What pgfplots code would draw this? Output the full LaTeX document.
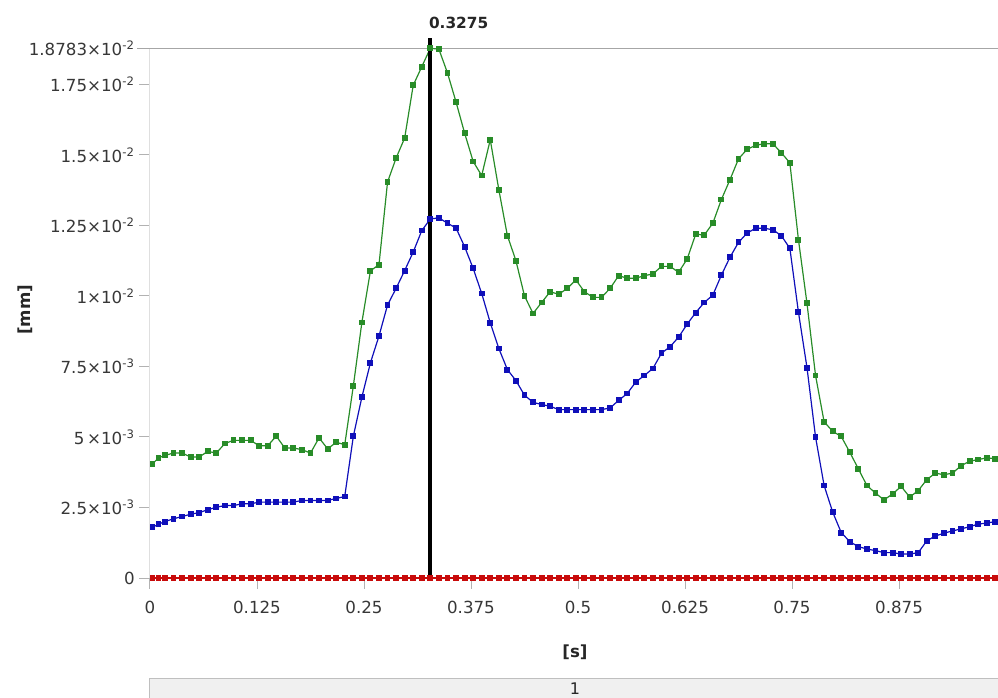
\documentclass[border=0pt]{standalone}
\usepackage{pgfplots}
\pgfplotsset{compat=1.18}
\usepackage{pgfplotstable}
\usepackage{fontspec}
\setmainfont{DejaVu Sans}

\definecolor{sgreen}{RGB}{40,140,40}
\definecolor{sblue}{RGB}{15,15,185}
\definecolor{sred}{RGB}{200,10,10}
\definecolor{ticktext}{RGB}{55,55,55}

% time [s], green, blue, red  (deformation in 1e-3 mm)
\pgfplotstableread{
t g b r
0.003 4.05 1.80 0
0.010 4.26 1.91 0
0.0175 4.35 2.00 0
0.0275 4.43 2.10 0
0.0375 4.43 2.18 0
0.0475 4.29 2.26 0
0.0575 4.29 2.32 0
0.0675 4.49 2.42 0
0.0775 4.43 2.51 0
0.0875 4.77 2.57 0
0.0975 4.88 2.57 0
0.1075 4.88 2.63 0
0.1175 4.88 2.63 0
0.1275 4.69 2.69 0
0.1375 4.69 2.69 0
0.1475 5.03 2.69 0
0.1575 4.61 2.69 0
0.1675 4.61 2.69 0
0.1775 4.55 2.75 0
0.1875 4.43 2.75 0
0.1975 4.97 2.75 0
0.2075 4.58 2.75 0
0.2175 4.81 2.82 0
0.2275 4.73 2.89 0
0.2375 6.80 5.02 0
0.2475 9.06 6.41 0
0.2575 10.89 7.63 0
0.2675 11.11 8.58 0
0.2775 14.04 9.68 0
0.2875 14.89 10.27 0
0.2975 15.60 10.90 0
0.3075 17.47 11.56 0
0.3175 18.13 12.32 0
0.3275 18.783 12.73 0
0.3375 18.75 12.77 0
0.3475 17.91 12.58 0
0.3575 16.88 12.41 0
0.3675 15.78 11.75 0
0.3775 14.77 10.98 0
0.3875 14.27 10.09 0
0.3975 15.54 9.05 0
0.4075 13.77 8.14 0
0.4175 12.14 7.39 0
0.4275 11.25 7.00 0
0.4375 10.00 6.48 0
0.4475 9.38 6.23 0
0.4575 9.77 6.15 0
0.4675 10.15 6.09 0
0.4775 10.06 5.97 0
0.4875 10.27 5.97 0
0.4975 10.57 5.97 0
0.5075 10.15 5.97 0
0.5175 9.95 5.97 0
0.5275 9.95 5.97 0
0.5375 10.27 6.03 0
0.5475 10.72 6.30 0
0.5575 10.63 6.54 0
0.5675 10.63 6.95 0
0.5775 10.72 7.18 0
0.5875 10.78 7.43 0
0.5975 11.05 7.97 0
0.6075 11.05 8.20 0
0.6175 10.84 8.54 0
0.6275 11.31 9.00 0
0.6375 12.19 9.41 0
0.6475 12.16 9.77 0
0.6575 12.58 10.03 0
0.6675 13.42 10.74 0
0.6775 14.12 11.37 0
0.6875 14.86 11.90 0
0.6975 15.20 12.23 0
0.7075 15.34 12.40 0
0.7175 15.40 12.40 0
0.7275 15.40 12.35 0
0.7375 15.08 12.14 0
0.7475 14.72 11.69 0
0.7575 12.00 9.43 0
0.7675 9.74 7.46 0
0.7775 7.18 5.00 0
0.7875 5.54 3.28 0
0.7975 5.20 2.34 0
0.8075 5.02 1.61 0
0.8175 4.46 1.29 0
0.8275 3.87 1.11 0
0.8375 3.28 1.03 0
0.8475 3.01 0.97 0
0.8575 2.77 0.90 0
0.8675 2.98 0.90 0
0.8775 3.25 0.85 0
0.8875 2.87 0.85 0
0.8975 3.10 0.90 0
0.9075 3.49 1.32 0
0.9175 3.72 1.49 0
0.9275 3.66 1.59 0
0.9375 3.72 1.67 0
0.9475 3.98 1.74 0
0.9575 4.14 1.82 0
0.9675 4.20 1.91 0
0.9775 4.26 1.95 0
0.9875 4.23 2.00 0
0.9975 4.27 2.04 0
}\deform

\begin{document}
\begin{tikzpicture}
\begin{axis}[
    name=ax,
    scale only axis,
    width=642pt,
    height=397.3pt,
    xmin=0, xmax=1,
    ymin=0, ymax=18.783,
    clip=false,
    axis x line*=bottom,
    axis y line*=left,
    x axis line style={gray!55, line width=0.75pt},
    y axis line style={gray!25, line width=0.75pt},
    tick align=outside,
    major tick length=8pt,
    tick style={gray!60, line width=0.75pt},
    xtick={0,0.125,0.25,0.375,0.5,0.625,0.75,0.875,1},
    xticklabels={0,0.125,0.25,0.375,0.5,0.625,0.75,0.875,1},
    xticklabel style={yshift=-6pt},
    ytick={0,2.5,5,7.5,10,12.5,15,17.5,18.783},
    yticklabels={0,
        2.5×10\textsuperscript{-3},
        5\,×10\textsuperscript{-3},
        7.5×10\textsuperscript{-3},
        1×10\textsuperscript{-2},
        1.25×10\textsuperscript{-2},
        1.5×10\textsuperscript{-2},
        1.75×10\textsuperscript{-2},
        1.8783×10\textsuperscript{-2}},
    tick label style={font=\fontsize{12.5}{15}\selectfont, text=ticktext},
    xlabel={\bfseries [s]},
    ylabel={\bfseries [mm]},
    label style={font=\fontsize{12.5}{15}\selectfont, text=black!85},
    xlabel style={at={(axis description cs:0.4965,-0.1397)}, anchor=center},
    ylabel style={at={(axis description cs:-0.146,0.506)}, anchor=center},
    every axis plot/.append style={line width=0.9pt, mark=square*, mark size=1.75pt},
]
% top limit line
\draw[gray!70, line width=0.75pt] ([xshift=-9.75pt]axis cs:0,18.783) -- (axis cs:1,18.783);

\addplot[sgreen, mark options={fill=sgreen}] table[x=t, y=g] {\deform};
\addplot[sblue, mark options={fill=sblue}] table[x=t, y=b] {\deform};
\addplot[sred, mark options={fill=sred}] table[x=t, y=r] {\deform};

% probe line at the maximum
\addplot[black, line width=3pt, mark=none] coordinates {(0.3275,0) (0.3275,19.16)};
\node[anchor=west, inner sep=0pt, font=\bfseries\fontsize{11.5}{14}\selectfont, text=black!85]
    at ([yshift=19.2pt, xshift=-1.2pt]axis cs:0.3275,18.783) {0.3275};

% time step bar
\draw[fill=gray!12, draw=gray!50, line width=0.75pt]
    (axis description cs:0,-0.1888) rectangle (axis description cs:1.05,-0.30);
\node[font=\fontsize{12}{14}\selectfont, text=black!85] at (axis description cs:0.4965,-0.2095) {1};
\end{axis}
\pgfresetboundingbox
\path[use as bounding box] ([shift={(-112.5pt,-89.25pt)}]ax.south west)
    rectangle ([shift={(636pt,433.5pt)}]ax.south west);
\end{tikzpicture}
\end{document}
